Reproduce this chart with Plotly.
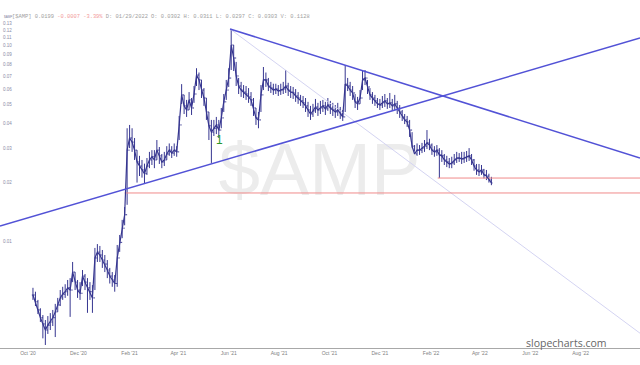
import math
import pandas as pd
import plotly.graph_objects as go

# ---------------- data (3-day bars) ----------------
dates = pd.date_range("2020-10-07", periods=186, freq="3D")

close = [.00533,.00492,.00447,.00408,.00379,.00353,.00374,.00388,.00408,.00437,
         .00474,.00515,.00538,.00554,.00580,.00565,.00698,.00620,.00565,.00544,
         .00666,.00620,.00580,.00554,.00515,.00824,.00883,.00853,.00804,.00767,
         .00715,.00666,.00636,.00610,.00824,.0099,.0117,.0137,.0293,.0338,
         .0322,.0293,.0255,.0243,.0232,.0222,.0243,.0261,.0271,.0261,
         .0293,.0274,.0255,.0261,.0280,.0293,.0283,.0293,.0287,.0394,
         .0561,.0493,.0470,.0529,.0481,.0567,.0709,.0669,.0594,.0541,
         .0459,.0390,.0362,.0379,.0394,.0371,.0428,.0517,.0594,.0684,
         .1009,.0866,.0701,.0623,.0594,.0580,.0567,.0548,.0529,.0481,
         .0428,.0418,.0561,.0669,.0669,.0623,.0608,.0594,.0601,.0587,
         .0594,.0601,.0623,.0594,.0580,.0574,.0554,.0541,.0523,.0511,
         .0493,.0470,.0448,.0465,.0487,.0470,.0481,.0493,.0476,.0498,
         .0481,.0470,.0459,.0470,.0448,.0433,.0637,.0623,.0594,.0574,
         .0517,.0505,.0541,.0669,.0684,.0616,.0561,.0541,.0523,.0505,
         .0498,.0511,.0523,.0505,.0511,.0493,.0505,.0481,.0459,.0433,
         .0418,.0408,.0371,.0307,.0280,.0293,.0293,.0300,.0307,.0319,
         .0311,.0293,.0287,.0293,.0277,.0274,.0261,.0255,.0249,.0252,
         .0261,.0267,.0267,.0264,.0267,.0271,.0274,.0261,.0243,.0232,
         .0227,.0232,.0219,.0216,.0206,.0199]

high = [.00580,.00554,.00503,.00456,.00421,.00397,.00416,.00431,.00447,.00480,
        .00515,.00565,.00587,.00605,.00636,.00650,.00786,.00698,.00636,.00620,
        .00715,.00682,.00650,.00620,.00599,.00927,.00970,.00949,.00905,.00853,
        .00804,.00733,.00698,.00674,.0096,.0108,.0129,.0150,.0379,.0394,
        .0379,.0338,.0293,.0274,.0261,.0250,.0267,.0287,.0293,.0293,
        .0330,.0304,.0280,.0287,.0307,.0317,.0307,.0317,.0307,.0438,
        .0637,.0561,.0529,.0580,.0541,.0623,.0768,.0730,.0669,.0608,
        .0541,.0459,.0418,.0418,.0433,.0418,.0481,.0567,.0669,.0768,
        .1219,.1009,.0827,.0685,.0654,.0630,.0623,.0608,.0580,.0541,
        .0481,.0459,.0630,.0779,.0730,.0685,.0654,.0640,.0640,.0630,
        .0640,.0654,.0752,.0647,.0623,.0616,.0601,.0580,.0561,.0554,
        .0541,.0517,.0493,.0505,.0535,.0511,.0523,.0529,.0517,.0541,
        .0523,.0511,.0498,.0511,.0487,.0470,.0797,.0685,.0654,.0623,
        .0567,.0548,.0594,.0752,.0752,.0669,.0608,.0580,.0561,.0541,
        .0535,.0554,.0567,.0541,.0574,.0535,.0561,.0523,.0498,.0470,
        .0448,.0438,.0418,.0362,.0311,.0317,.0311,.0319,.0330,.0371,
        .0335,.0317,.0307,.0311,.0300,.0293,.0280,.0274,.0267,.0271,
        .0280,.0287,.0283,.0287,.0287,.0290,.0300,.0280,.0264,.0249,
        .0249,.0246,.0235,.0232,.0222,.0214]

low = [.00503,.00468,.00426,.00388,.00320,.00296,.00337,.00353,.00370,.00325,
       .00437,.00468,.00503,.00515,.00528,.00412,.00620,.00565,.00515,.00503,
       .00592,.00565,.00432,.00503,.00432,.00565,.00786,.00786,.00733,.00698,
       .00650,.00610,.00587,.00554,.00587,.00885,.0104,.0121,.0154,.0300,
       .0287,.0261,.0200,.0216,.0212,.0197,.0219,.0237,.0246,.0237,
       .0261,.0249,.0237,.0243,.0261,.0274,.0267,.0274,.0271,.0330,
       .0504,.0448,.0433,.0470,.0443,.0511,.0623,.0594,.0541,.0493,
       .0418,.0330,.0252,.0346,.0354,.0338,.0379,.0459,.0529,.0616,
       .0752,.0743,.0623,.0567,.0548,.0541,.0529,.0511,.0493,.0438,
       .0394,.0379,.0459,.0594,.0616,.0587,.0574,.0561,.0567,.0554,
       .0561,.0567,.0574,.0554,.0541,.0535,.0517,.0505,.0493,.0481,
       .0459,.0433,.0418,.0433,.0454,.0438,.0448,.0459,.0443,.0465,
       .0448,.0438,.0428,.0438,.0423,.0413,.0459,.0587,.0554,.0529,
       .0481,.0470,.0505,.0594,.0630,.0567,.0529,.0505,.0493,.0481,
       .0470,.0481,.0487,.0476,.0481,.0465,.0470,.0448,.0428,.0413,
       .0398,.0385,.0342,.0277,.0246,.0274,.0277,.0283,.0287,.0297,
       .0293,.0277,.0271,.0274,.0211,.0255,.0246,.0240,.0237,.0237,
       .0246,.0252,.0255,.0249,.0252,.0255,.0258,.0246,.0230,.0219,
       .0216,.0219,.0210,.0206,.0200,.0194]

open_ = [close[0]] + close[:-1]

# trend lines / levels
x_start = "2020-08-28 02:24"
x_end = "2022-10-11 21:36"
rise_x = [x_start, x_end]
rise_y = [0.0120, 0.1096]
top_x = ["2021-06-02 14:00", x_end]
top_y = [0.1219, 0.0267]
faint_x = ["2021-06-02 14:00", x_end]
faint_y = [0.1219, 0.00340]
lvl1_x = ["2022-02-09", x_end]
lvl1_y = [0.0211, 0.0211]
lvl2_x = ["2021-01-26", x_end]
lvl2_y = [0.0177, 0.0177]

y_ticks = [0.01, 0.02, 0.03, 0.04, 0.05, 0.06, 0.07, 0.08, 0.09, 0.10, 0.11, 0.12, 0.13]
y_tick_text = ["0.01", "0.02", "0.03", "0.04", "0.05", "0.06", "0.07", "0.08",
               "0.09", "0.10", "0.11", "0.12", "0.13"]
x_ticks = ["2020-10-01", "2020-12-01", "2021-02-01", "2021-04-01", "2021-06-01",
           "2021-08-01", "2021-10-01", "2021-12-01", "2022-02-01", "2022-04-01",
           "2022-06-01", "2022-08-01"]
x_tick_text = ["Oct '20", "Dec '20", "Feb '21", "Apr '21", "Jun '21", "Aug '21",
               "Oct '21", "Dec '21", "Feb '22", "Apr '22", "Jun '22", "Aug '22"]

# ---------------- figure ----------------
W, H = 640, 365
B = 17
PH = H - B


def py(ypx):
    return (PH - ypx) / PH


BAR = "#363690"

fig = go.Figure()

# watermark (below everything)
fig.add_trace(go.Scatter(
    x=["2021-09-19"], y=[0.0214], mode="text", text=["$AMP"],
    textfont=dict(size=74, color="#ececec", family="Liberation Sans"),
    hoverinfo="skip", showlegend=False))

fig.add_trace(go.Scatter(x=faint_x, y=faint_y, mode="lines",
                         line=dict(color="#d4d4f2", width=1), showlegend=False))
fig.add_trace(go.Scatter(x=lvl2_x, y=lvl2_y, mode="lines",
                         line=dict(color="#f08a8a", width=1), showlegend=False))
fig.add_trace(go.Scatter(x=lvl1_x, y=lvl1_y, mode="lines",
                         line=dict(color="#f08a8a", width=1), showlegend=False))

fig.add_trace(go.Ohlc(
    x=dates, open=open_, high=high, low=low, close=close,
    increasing=dict(line=dict(color=BAR, width=1)),
    decreasing=dict(line=dict(color=BAR, width=1)),
    tickwidth=0.45, showlegend=False))
fig.add_trace(go.Scatter(x=dates, y=close, mode="lines",
                         line=dict(color=BAR, width=1.2), showlegend=False,
                         hoverinfo="skip"))

fig.add_trace(go.Scatter(x=rise_x, y=rise_y, mode="lines",
                         line=dict(color="#5252d6", width=1.5), showlegend=False))
fig.add_trace(go.Scatter(x=top_x, y=top_y, mode="lines",
                         line=dict(color="#5252d6", width=1.5), showlegend=False))

fig.update_layout(
    width=W, height=H,
    margin=dict(l=0, r=0, t=0, b=B, pad=0),
    paper_bgcolor="white", plot_bgcolor="white",
    showlegend=False,
    xaxis=dict(type="date", range=[x_start, x_end], automargin=False,
               tickvals=x_ticks, ticktext=x_tick_text,
               tickfont=dict(size=5, color="#808080", family="Liberation Sans"),
               showline=True, linecolor="#a8a8a8", linewidth=1,
               showgrid=False, zeroline=False, ticks="",
               rangeslider=dict(visible=False)),
    yaxis=dict(type="log", range=[-2.5441, -0.7661], automargin=False,
               tickvals=y_ticks, ticktext=y_tick_text,
               ticklabelposition="inside",
               tickfont=dict(size=4.5, color="#8a8aa6", family="Liberation Sans"),
               showgrid=False, showline=False, zeroline=False, ticks=""),
    annotations=[
        dict(xref="paper", yref="paper", x=10 / W, y=py(17), xanchor="left",
             yanchor="middle", showarrow=False,
             text="[$AMP] 0.0199 <span style='color:#f29a9a'>-0.0007 -3.39%</span> "
                  "D: 01/29/2022 O: 0.0302 H: 0.0311 L: 0.0297 C: 0.0303 V: 0.1128",
             font=dict(size=5.4, color="#a0a0a0", family="Liberation Mono")),
        dict(xref="paper", yref="paper", x=2 / W, y=py(17), xanchor="left",
             yanchor="middle", showarrow=False, text="$AMP",
             font=dict(size=3, color="#8080a0", family="Liberation Sans")),
        dict(x="2021-05-21", y=math.log10(0.0330), xref="x", yref="y",
             showarrow=False, text="1",
             font=dict(size=12, color="#2a962a", family="Liberation Sans")),
        dict(xref="paper", yref="paper", x=608 / W, y=py(343), xanchor="right",
             yanchor="middle", showarrow=False, text="slopecharts.com",
             font=dict(size=10.5, color="#666666", family="Open Sans")),
    ],
)

fig.write_html("out.html",
               config={"displayModeBar": False},
               post_script="document.body.style.margin='0';document.body.style.padding='0';")
